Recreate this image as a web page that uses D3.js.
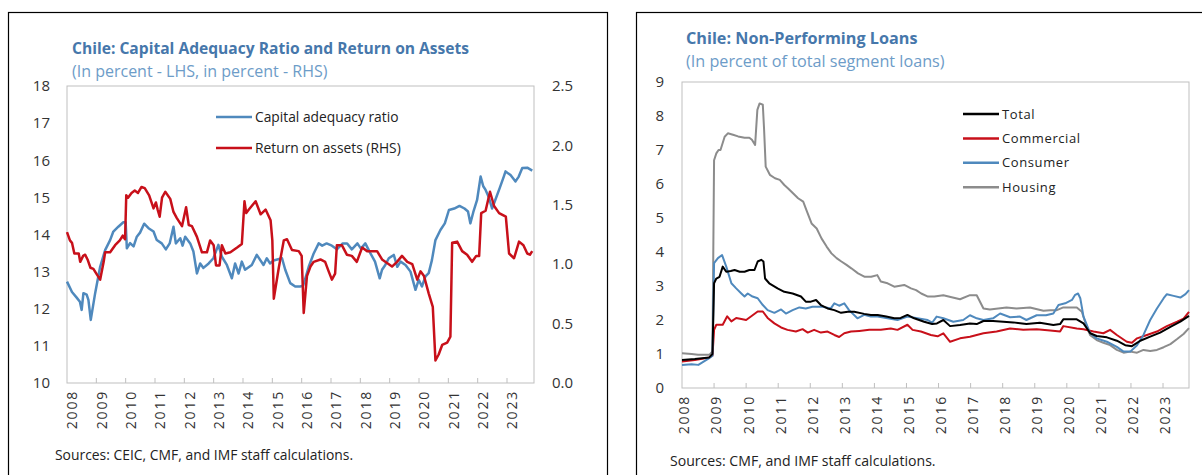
<!DOCTYPE html>
<html>
<head>
<meta charset="utf-8">
<script src="https://cdn.jsdelivr.net/npm/d3@7"></script>
<style>
  body { margin: 0; background: #fff; }
  svg text { font-family: "Open Sans", "Noto Sans", sans-serif; }
</style>
</head>
<body>
<svg id="chart" width="1202" height="475"></svg>
<script>
// tick labels shared by both panels
var yearLabels = ["2008","2009","2010","2011","2012","2013","2014","2015","2016","2017","2018","2019","2020","2021","2022","2023"];

// left panel: capital adequacy ratio (LHS) and return on assets (RHS), [year, value]
var carSeries = [[2008.00,12.73],[2008.17,12.45],[2008.33,12.3],[2008.44,12.19],[2008.50,11.97],[2008.56,12.42],[2008.67,12.38],[2008.73,12.24],[2008.81,11.70],[2008.96,12.42],[2009.13,13.13],[2009.30,13.58],[2009.47,13.85],[2009.58,14.08],[2009.75,14.21],[2009.92,14.33],[2010.00,14.33],[2010.04,13.63],[2010.15,13.77],[2010.27,13.68],[2010.38,13.94],[2010.49,14.05],[2010.63,14.29],[2010.78,14.17],[2010.95,14.08],[2011.06,13.85],[2011.23,13.76],[2011.37,13.60],[2011.50,13.76],[2011.63,14.21],[2011.71,13.76],[2011.86,13.90],[2011.94,13.70],[2012.03,13.94],[2012.20,13.76],[2012.31,13.54],[2012.43,12.95],[2012.54,13.22],[2012.65,13.10],[2012.83,13.22],[2012.99,13.36],[2013.16,13.72],[2013.28,13.40],[2013.45,13.18],[2013.62,12.82],[2013.73,13.22],[2013.85,12.95],[2013.96,13.27],[2014.07,13.05],[2014.30,13.18],[2014.47,13.45],[2014.70,13.18],[2014.81,13.36],[2014.92,13.22],[2015.04,13.30],[2015.33,13.36],[2015.44,13.05],[2015.61,12.69],[2015.78,12.60],[2015.95,12.60],[2016.05,12.62],[2016.24,13.13],[2016.41,13.49],[2016.58,13.76],[2016.70,13.70],[2016.85,13.76],[2017.03,13.70],[2017.20,13.60],[2017.40,13.76],[2017.55,13.76],[2017.71,13.60],[2017.90,13.76],[2018.02,13.62],[2018.17,13.76],[2018.34,13.50],[2018.50,13.27],[2018.66,12.82],[2018.74,13.05],[2018.85,13.18],[2018.97,13.36],[2019.14,13.45],[2019.26,13.13],[2019.37,13.27],[2019.54,13.18],[2019.71,13.00],[2019.88,12.51],[2019.99,12.78],[2020.10,12.60],[2020.22,12.87],[2020.33,12.96],[2020.44,13.31],[2020.56,13.85],[2020.73,14.12],[2020.88,14.30],[2021.02,14.66],[2021.20,14.70],[2021.38,14.77],[2021.55,14.70],[2021.67,14.62],[2021.75,14.30],[2021.85,14.60],[2021.98,14.93],[2022.10,15.56],[2022.19,15.30],[2022.27,15.20],[2022.38,15.00],[2022.49,14.70],[2022.60,14.93],[2022.75,15.25],[2022.89,15.56],[2022.95,15.70],[2023.12,15.60],[2023.29,15.43],[2023.40,15.56],[2023.52,15.79],[2023.69,15.80],[2023.86,15.72]];

var roaSeries = [[2008.00,1.27],[2008.10,1.20],[2008.17,1.18],[2008.25,1.09],[2008.40,1.09],[2008.45,1.02],[2008.55,1.07],[2008.62,1.08],[2008.70,1.04],[2008.80,0.97],[2008.90,0.96],[2009.00,0.92],[2009.13,0.87],[2009.25,1.02],[2009.30,1.10],[2009.47,1.10],[2009.64,1.16],[2009.80,1.20],[2009.90,1.24],[2009.98,1.21],[2010.02,1.58],[2010.08,1.56],[2010.20,1.60],[2010.31,1.62],[2010.42,1.60],[2010.54,1.65],[2010.65,1.64],[2010.80,1.58],[2010.95,1.47],[2011.03,1.52],[2011.09,1.46],[2011.16,1.40],[2011.24,1.56],[2011.35,1.61],[2011.52,1.55],[2011.63,1.44],[2011.74,1.39],[2011.92,1.32],[2012.06,1.48],[2012.15,1.33],[2012.26,1.32],[2012.43,1.23],[2012.60,1.10],[2012.77,1.10],[2012.88,1.20],[2013.00,1.16],[2013.08,0.99],[2013.20,0.99],[2013.28,1.16],[2013.40,1.09],[2013.57,1.10],[2013.80,1.14],[2013.96,1.17],[2014.05,1.53],[2014.11,1.43],[2014.20,1.46],[2014.43,1.53],[2014.60,1.42],[2014.77,1.46],[2014.94,1.37],[2015.00,1.20],[2015.05,0.71],[2015.22,0.97],[2015.39,1.20],[2015.50,1.21],[2015.67,1.12],[2015.90,1.11],[2016.00,1.07],[2016.07,0.59],[2016.18,0.90],[2016.30,0.98],[2016.41,1.02],[2016.64,1.04],[2016.80,1.02],[2016.92,0.94],[2017.03,0.87],[2017.14,0.92],[2017.20,1.16],[2017.37,1.16],[2017.54,1.08],[2017.71,1.07],[2017.88,1.02],[2018.06,1.14],[2018.23,1.11],[2018.40,1.11],[2018.57,1.11],[2018.74,1.04],[2018.91,1.01],[2019.08,0.98],[2019.25,1.02],[2019.42,1.07],[2019.60,1.02],[2019.77,1.00],[2019.94,0.87],[2020.05,0.94],[2020.17,0.90],[2020.33,0.755],[2020.47,0.64],[2020.56,0.19],[2020.67,0.24],[2020.79,0.32],[2020.96,0.34],[2021.07,0.39],[2021.13,1.18],[2021.30,1.19],[2021.47,1.11],[2021.64,1.08],[2021.81,1.02],[2021.95,1.07],[2022.05,1.07],[2022.12,1.43],[2022.27,1.45],[2022.42,1.61],[2022.56,1.49],[2022.73,1.43],[2022.96,1.40],[2023.07,1.09],[2023.24,1.05],[2023.41,1.19],[2023.56,1.16],[2023.69,1.09],[2023.78,1.08],[2023.86,1.11]];

var leftTicks = [10, 11, 12, 13, 14, 15, 16, 17, 18];
var rightTicks = [0, 0.5, 1, 1.5, 2, 2.5];

// right panel: non-performing loans by segment, [year, value]
var totalSeries = [[2008.00,0.82],[2008.40,0.85],[2008.85,0.90],[2008.95,1.00],[2009.00,3.08],[2009.07,3.22],[2009.17,3.27],[2009.27,3.57],[2009.38,3.42],[2009.52,3.44],[2009.64,3.47],[2009.80,3.42],[2009.95,3.42],[2010.10,3.47],[2010.26,3.47],[2010.36,3.72],[2010.47,3.77],[2010.54,3.72],[2010.59,3.22],[2010.72,3.08],[2010.98,2.93],[2011.19,2.83],[2011.45,2.78],[2011.71,2.69],[2011.86,2.54],[2012.02,2.54],[2012.18,2.59],[2012.33,2.44],[2012.54,2.34],[2012.75,2.29],[2012.96,2.21],[2013.17,2.24],[2013.37,2.24],[2013.68,2.18],[2013.89,2.15],[2014.10,2.15],[2014.37,2.10],[2014.62,2.05],[2014.82,2.06],[2015.03,2.15],[2015.24,2.05],[2015.55,1.95],[2015.80,1.88],[2015.95,1.90],[2016.15,2.00],[2016.36,1.82],[2016.67,1.85],[2016.98,1.90],[2017.19,1.88],[2017.40,1.97],[2017.70,1.97],[2018.02,1.95],[2018.33,1.93],[2018.74,1.88],[2019.16,1.92],[2019.58,1.85],[2019.79,1.88],[2019.89,2.02],[2020.31,2.02],[2020.52,1.90],[2020.73,1.61],[2020.93,1.53],[2021.25,1.49],[2021.56,1.39],[2021.82,1.26],[2022.03,1.23],[2022.29,1.39],[2022.60,1.51],[2022.91,1.63],[2023.23,1.80],[2023.54,1.95],[2023.81,2.12]];

var commercialSeries = [[2008.00,0.78],[2008.40,0.82],[2008.85,0.90],[2008.95,0.95],[2009.00,1.71],[2009.07,1.86],[2009.27,1.86],[2009.41,2.11],[2009.54,1.96],[2009.69,2.06],[2009.85,2.03],[2010.00,2.00],[2010.16,2.11],[2010.36,2.25],[2010.52,2.25],[2010.67,2.06],[2010.88,1.90],[2011.09,1.78],[2011.29,1.71],[2011.55,1.66],[2011.76,1.73],[2011.92,1.63],[2012.12,1.71],[2012.33,1.63],[2012.54,1.66],[2012.75,1.56],[2012.90,1.50],[2013.06,1.61],[2013.27,1.66],[2013.53,1.68],[2013.84,1.71],[2014.20,1.71],[2014.51,1.75],[2014.72,1.71],[2015.03,1.86],[2015.19,1.71],[2015.45,1.66],[2015.76,1.56],[2015.97,1.52],[2016.15,1.61],[2016.36,1.36],[2016.67,1.46],[2016.98,1.51],[2017.19,1.56],[2017.40,1.61],[2017.81,1.66],[2018.23,1.75],[2018.64,1.71],[2019.06,1.73],[2019.48,1.69],[2019.79,1.66],[2019.89,1.82],[2020.31,1.75],[2020.52,1.73],[2020.83,1.66],[2021.14,1.61],[2021.35,1.71],[2021.56,1.56],[2021.87,1.36],[2022.03,1.33],[2022.19,1.46],[2022.50,1.56],[2022.81,1.66],[2023.12,1.82],[2023.44,1.95],[2023.64,2.04],[2023.81,2.24]];

var consumerSeries = [[2008.00,0.68],[2008.30,0.70],[2008.51,0.68],[2008.85,0.88],[2008.95,0.95],[2009.00,3.67],[2009.12,3.82],[2009.25,3.91],[2009.38,3.57],[2009.54,3.08],[2009.69,2.93],[2009.85,2.78],[2009.95,2.69],[2010.05,2.78],[2010.20,2.69],[2010.36,2.64],[2010.52,2.44],[2010.67,2.29],[2010.88,2.21],[2011.09,2.31],[2011.24,2.19],[2011.45,2.29],[2011.66,2.37],[2011.86,2.34],[2012.07,2.39],[2012.38,2.39],[2012.64,2.34],[2012.75,2.49],[2012.90,2.42],[2013.06,2.49],[2013.21,2.29],[2013.47,2.05],[2013.68,2.15],[2013.89,2.10],[2014.10,2.10],[2014.41,2.05],[2014.72,2.00],[2015.03,2.10],[2015.34,2.05],[2015.66,2.00],[2015.80,1.92],[2015.94,2.10],[2016.15,2.05],[2016.46,1.95],[2016.77,2.00],[2016.98,2.14],[2017.19,2.05],[2017.40,2.00],[2017.70,2.05],[2017.92,2.19],[2018.23,2.08],[2018.54,2.10],[2018.74,2.00],[2019.06,2.14],[2019.35,2.14],[2019.58,2.19],[2019.74,2.44],[2019.95,2.49],[2020.16,2.59],[2020.26,2.74],[2020.35,2.78],[2020.42,2.64],[2020.52,2.10],[2020.73,1.61],[2020.93,1.46],[2021.25,1.36],[2021.56,1.21],[2021.77,1.07],[2021.98,1.07],[2022.19,1.26],[2022.39,1.56],[2022.60,2.00],[2022.81,2.34],[2023.02,2.64],[2023.12,2.76],[2023.33,2.71],[2023.54,2.66],[2023.70,2.76],[2023.81,2.88]];

var housingSeries = [[2008.00,1.02],[2008.30,1.00],[2008.50,0.98],[2008.86,0.98],[2008.95,1.08],[2009.00,6.70],[2009.07,6.90],[2009.14,7.00],[2009.20,7.00],[2009.33,7.39],[2009.43,7.49],[2009.59,7.45],[2009.75,7.40],[2009.95,7.36],[2010.10,7.36],[2010.18,7.30],[2010.28,7.15],[2010.35,8.18],[2010.42,8.37],[2010.52,8.33],[2010.56,7.60],[2010.61,6.51],[2010.74,6.27],[2010.90,6.17],[2011.05,6.12],[2011.19,5.97],[2011.31,5.87],[2011.47,5.72],[2011.62,5.58],[2011.78,5.48],[2011.88,5.23],[2012.04,4.84],[2012.20,4.69],[2012.35,4.40],[2012.51,4.16],[2012.66,3.96],[2012.82,3.82],[2012.97,3.72],[2013.13,3.62],[2013.28,3.52],[2013.49,3.37],[2013.70,3.27],[2013.90,3.27],[2014.09,3.32],[2014.20,3.13],[2014.41,3.08],[2014.62,2.98],[2014.93,3.03],[2015.14,2.93],[2015.30,2.88],[2015.46,2.78],[2015.67,2.69],[2015.87,2.69],[2016.15,2.73],[2016.67,2.61],[2016.98,2.73],[2017.19,2.73],[2017.40,2.34],[2017.60,2.31],[2018.12,2.37],[2018.43,2.34],[2018.85,2.37],[2019.27,2.27],[2019.48,2.29],[2019.69,2.29],[2019.89,2.37],[2020.31,2.37],[2020.47,2.24],[2020.62,1.80],[2020.73,1.55],[2020.93,1.41],[2021.14,1.33],[2021.35,1.26],[2021.56,1.12],[2021.77,1.04],[2021.98,1.07],[2022.19,1.04],[2022.39,1.12],[2022.60,1.09],[2022.81,1.12],[2023.02,1.20],[2023.23,1.29],[2023.44,1.44],[2023.64,1.59],[2023.81,1.76]];

var nplTicks = [0, 1, 2, 3, 4, 5, 6, 7, 8, 9];

var svg = d3.select("#chart");
var titleColor = "#4677ab", subColor = "#6d9cc8", textColor = "#333";
var blue = "#4f89bd", red = "#c8101a", gray = "#8c8c8c";

// panel frames
svg.append("rect").attr("x", 8.5).attr("y", 12.5).attr("width", 599).attr("height", 480)
    .attr("fill", "none").attr("stroke", "#000").attr("stroke-width", 1.2);
svg.append("rect").attr("x", 636.5).attr("y", 12.5).attr("width", 600).attr("height", 480)
    .attr("fill", "none").attr("stroke", "#000").attr("stroke-width", 1.2);

function titles(x, y, title, sub, size, subSize) {
    svg.append("text").attr("x", x).attr("y", y).text(title)
        .attr("fill", titleColor).attr("font-weight", 700).attr("font-size", size + "px");
    svg.append("text").attr("x", x).attr("y", y + 23).text(sub)
        .attr("fill", subColor).attr("font-size", subSize + "px");
}

function plotFrame(x, y, labelOffset) {
    var r = y.range();
    var g = svg.append("g");
    g.append("rect").attr("x", x.range()[0]).attr("y", r[1])
        .attr("width", x.range()[1] - x.range()[0]).attr("height", r[0] - r[1])
        .attr("fill", "none").attr("stroke", "#bfbfbf");
    yearLabels.forEach(function (lab) {
        var px = x(+lab);
        if (+lab > 2008) {
            g.append("line").attr("x1", px).attr("x2", px).attr("y1", r[0]).attr("y2", r[0] - 5)
                .attr("stroke", "#bfbfbf");
        }
        g.append("text").attr("transform", "translate(" + (px + labelOffset) + "," + (r[0] + 7) + ") rotate(-90)")
            .attr("text-anchor", "end").attr("dy", "0.35em").attr("font-size", "14px")
            .attr("letter-spacing", "1.8px").attr("fill", textColor).text(lab);
    });
}

function yLabels(y, ticks, xpos, anchor, fmt) {
    ticks.forEach(function (t) {
        svg.append("text").attr("x", xpos).attr("y", y(t)).attr("dy", "0.35em")
            .attr("text-anchor", anchor).attr("font-size", "15px").attr("fill", textColor)
            .text(fmt(t));
    });
}

function drawLine(x, y, data, color, w) {
    svg.append("path").datum(data)
        .attr("fill", "none").attr("stroke", color).attr("stroke-width", w)
        .attr("stroke-linejoin", "round")
        .attr("d", d3.line().x(function (d) { return x(d[0]); }).y(function (d) { return y(d[1]); }));
}

function legend(items, x0, y0, step, fs, spacing) {
    items.forEach(function (it, i) {
        var yy = y0 + i * step;
        svg.append("line").attr("x1", x0).attr("x2", x0 + 36).attr("y1", yy).attr("y2", yy)
            .attr("stroke", it.color).attr("stroke-width", 2.5);
        svg.append("text").attr("x", x0 + 39).attr("y", yy).attr("dy", "0.35em")
            .attr("font-size", fs).attr("letter-spacing", spacing).attr("fill", "#222").text(it.name);
    });
}

// ---- left panel
titles(72, 54, "Chile: Capital Adequacy Ratio and Return on Assets", "(In percent - LHS, in percent - RHS)", 15.6, 16);
var xL = d3.scaleLinear().domain([2008, 2023.92]).range([67, 534]);
var yL = d3.scaleLinear().domain([10, 18]).range([383, 86]);
var yR = d3.scaleLinear().domain([0, 2.5]).range([383, 86]);
plotFrame(xL, yL, 5.5);
yLabels(yL, leftTicks, 50, "end", d3.format("d"));
yLabels(yR, rightTicks, 552, "start", d3.format(".1f"));
drawLine(xL, yL, carSeries, blue, 2.5);
drawLine(xL, yR, roaSeries, red, 2.5);
legend([{name: "Capital adequacy ratio", color: blue}, {name: "Return on assets (RHS)", color: red}],
    216, 117, 31, "13.8px", "0px");
svg.append("text").attr("x", 55).attr("y", 455).attr("dy", "0.35em").attr("font-size", "13.9px")
    .attr("fill", "#222").text("Sources: CEIC, CMF, and IMF staff calculations.");

// ---- right panel
titles(686, 44, "Chile: Non-Performing Loans", "(In percent of total segment loans)", 16.2, 16.2);
var xN = d3.scaleLinear().domain([2008, 2023.81]).range([682, 1189]);
var yN = d3.scaleLinear().domain([0, 9]).range([388, 82]);
plotFrame(xN, yN, 2.5);
yLabels(yN, nplTicks, 664, "end", d3.format("d"));
drawLine(xN, yN, housingSeries, gray, 2);
drawLine(xN, yN, commercialSeries, red, 2);
drawLine(xN, yN, consumerSeries, blue, 2);
drawLine(xN, yN, totalSeries, "#000", 2);
legend([{name: "Total", color: "#000"}, {name: "Commercial", color: red},
        {name: "Consumer", color: blue}, {name: "Housing", color: gray}],
    963, 114, 24.4, "13px", "0.6px");
svg.append("text").attr("x", 670).attr("y", 461).attr("dy", "0.35em").attr("font-size", "14.1px")
    .attr("fill", "#222").text("Sources: CMF, and IMF staff calculations.");
</script>
</body>
</html>
